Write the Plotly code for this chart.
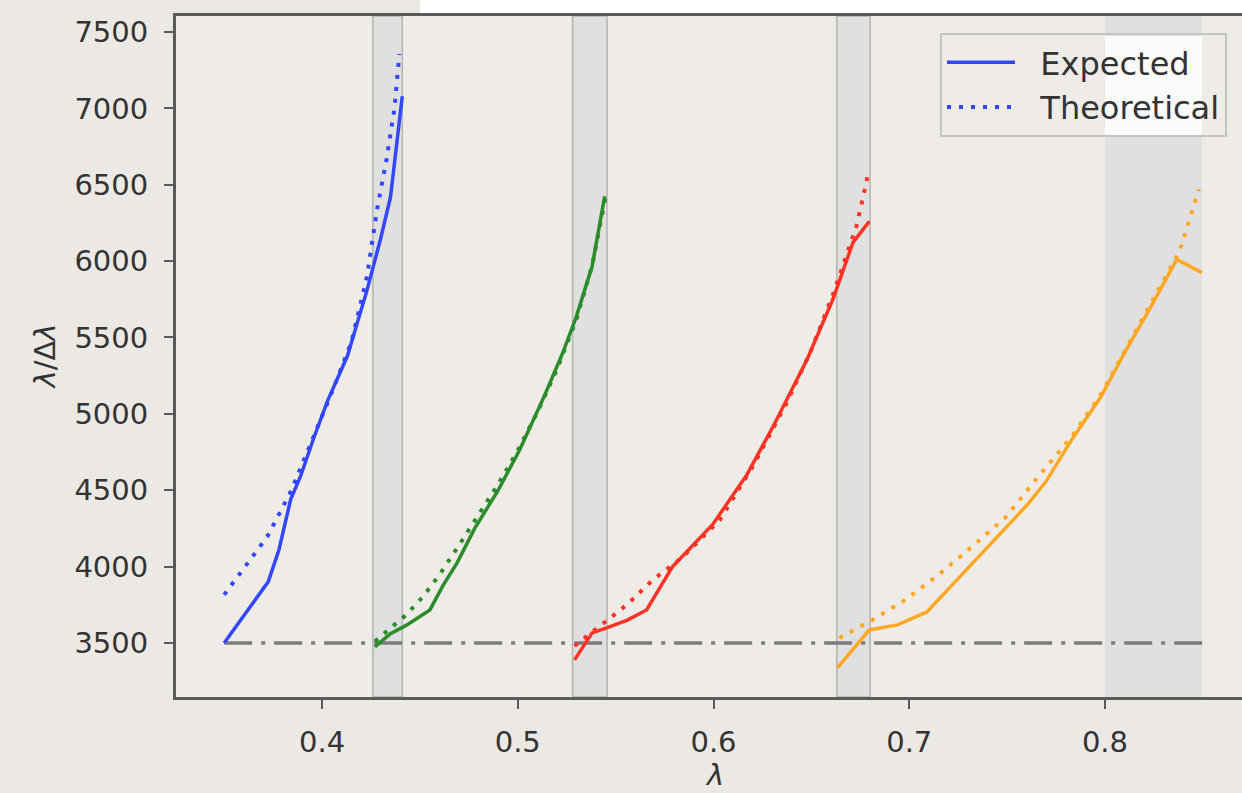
import plotly.graph_objects as go

# ---------------- data ----------------
blue_exp_x = [0.350, 0.361, 0.3725, 0.378, 0.384, 0.389, 0.396, 0.403, 0.413, 0.423, 0.430, 0.435, 0.439, 0.441]
blue_exp_y = [3500, 3700, 3900, 4110, 4440, 4590, 4850, 5090, 5380, 5810, 6150, 6420, 6870, 7080]
blue_th_x = [0.350, 0.360, 0.372, 0.384, 0.395, 0.405, 0.415, 0.423, 0.428, 0.433, 0.437, 0.4395]
blue_th_y = [3815, 3990, 4195, 4490, 4830, 5140, 5470, 5900, 6330, 6670, 7000, 7356]

green_exp_x = [0.427, 0.435, 0.4434, 0.4551, 0.462, 0.469, 0.478, 0.490, 0.501, 0.513, 0.523, 0.530, 0.538, 0.5444]
green_exp_y = [3474, 3560, 3618, 3716, 3880, 4024, 4250, 4500, 4765, 5100, 5400, 5640, 5966, 6425]
green_th_x = [0.427, 0.436, 0.443, 0.4515, 0.460, 0.470, 0.480, 0.490, 0.500, 0.510, 0.520, 0.530, 0.538, 0.545]
green_th_y = [3510, 3610, 3684, 3802, 3946, 4140, 4340, 4540, 4760, 5010, 5290, 5620, 5970, 6430]

red_exp_x = [0.529, 0.538, 0.5454, 0.556, 0.5658, 0.579, 0.5995, 0.617, 0.6304, 0.6478, 0.661, 0.6713, 0.6796]
red_exp_y = [3389, 3566, 3598, 3650, 3716, 3998, 4274, 4600, 4916, 5356, 5750, 6123, 6260]
red_th_x = [0.529, 0.5454, 0.5558, 0.569, 0.5844, 0.6033, 0.620, 0.6375, 0.650, 0.661, 0.669, 0.673, 0.6756, 0.6786]
red_th_y = [3480, 3650, 3750, 3913, 4064, 4307, 4654, 5074, 5420, 5780, 6080, 6228, 6372, 6549]

orange_exp_x = [0.6633, 0.6796, 0.694, 0.709, 0.730, 0.7495, 0.760, 0.770, 0.783, 0.798, 0.810, 0.823, 0.8367, 0.8495]
orange_exp_y = [3336, 3585, 3618, 3703, 3990, 4254, 4400, 4560, 4831, 5113, 5400, 5690, 6011, 5925]
orange_th_x = [0.6643, 0.681, 0.698, 0.715, 0.732, 0.7495, 0.766, 0.783, 0.798, 0.812, 0.825, 0.838, 0.848]
orange_th_y = [3533, 3650, 3782, 3946, 4130, 4326, 4590, 4851, 5130, 5450, 5760, 6060, 6470]

span_starts = [0.426, 0.528, 0.663, 0.800]
span_ends = [0.441, 0.5456, 0.680, 0.8496]
span_edges = [True, True, True, False]

ref_x = [0.35, 0.85]
ref_y = [3500, 3500]

y_ticks = [3500, 4000, 4500, 5000, 5500, 6000, 6500, 7000, 7500]
x_ticks = [0.4, 0.5, 0.6, 0.7, 0.8]

# ---------------- figure ----------------
W, H = 1242, 793
ml, mr, mt, mb = 176, 0, 16, 96
pw, ph = W - ml - mr, H - mt - mb

def px_x(p):
    return (p - ml) / pw

def px_y(p):
    return (H - mb - p) / ph

FONT = "DejaVu Sans"
DOT = "4px,8px"
NB = "\u00a0\u00a0"

fig = go.Figure()

series = [
    ("#3347ff", blue_exp_x, blue_exp_y, blue_th_x, blue_th_y, True),
    ("#2c8c2c", green_exp_x, green_exp_y, green_th_x, green_th_y, False),
    ("#ff3226", red_exp_x, red_exp_y, red_th_x, red_th_y, False),
    ("#ffa826", orange_exp_x, orange_exp_y, orange_th_x, orange_th_y, False),
]

fig.add_trace(go.Scatter(x=ref_x, y=ref_y, mode="lines", showlegend=False,
                         line=dict(color="#7c7c7c", width=3.5, dash="28px,9px,4px,9px")))

for color, ex, ey, tx, ty, leg in series:
    fig.add_trace(go.Scatter(x=ex, y=ey, mode="lines", name=NB + "Expected", showlegend=leg,
                             legendgroup="a", line=dict(color=color, width=3.5)))
    fig.add_trace(go.Scatter(x=tx, y=ty, mode="lines", name=NB + "Theoretical", showlegend=leg,
                             legendgroup="b", line=dict(color=color, width=4, dash=DOT)))

shapes = []
# white strip above the axes (photo artifact)
shapes.append(dict(type="rect", xref="paper", yref="paper", x0=px_x(420), x1=1.0,
                   y0=px_y(14), y1=px_y(-5), fillcolor="#ffffff", line=dict(width=0), layer="below"))
for s0, s1, edge in zip(span_starts, span_ends, span_edges):
    shapes.append(dict(type="rect", xref="x", yref="paper", x0=s0, x1=s1, y0=0, y1=1,
                       fillcolor="#e0e0e0",
                       line=dict(color="#b2b2b2" if edge else "rgba(0,0,0,0)", width=1.5 if edge else 0),
                       layer="below"))
# bright patch inside legend over last span
shapes.append(dict(type="rect", xref="x", yref="paper", x0=span_starts[3], x1=span_ends[3],
                   y0=px_y(135), y1=px_y(36), fillcolor="#fbfbfb", line=dict(width=0), layer="above"))

annotations = [
    dict(text="<i>λ</i>/Δ<i>λ</i>", xref="paper", yref="paper", x=px_x(44), y=0.5,
         textangle=-90, showarrow=False, xanchor="center", yanchor="middle",
         font=dict(family=FONT, size=29, color="#333333")),
    dict(text="<i>λ</i>", xref="paper", yref="paper", x=px_x(714), y=px_y(775),
         showarrow=False, xanchor="center", yanchor="middle",
         font=dict(family=FONT, size=29, color="#333333")),
]

fig.update_layout(
    width=W, height=H,
    margin=dict(l=ml, r=mr, t=mt, b=mb),
    paper_bgcolor="#ece9e4",
    plot_bgcolor="#efece7",
    font=dict(family=FONT, size=29, color="#333333"),
    shapes=shapes,
    annotations=annotations,
    legend=dict(x=px_x(940), y=px_y(33), xanchor="left", yanchor="top",
                bgcolor="rgba(0,0,0,0)", bordercolor="#c4c4c4", borderwidth=2,
                font=dict(family=FONT, size=32, color="#333333"),
                itemwidth=68, tracegroupgap=8, traceorder="normal"),
    showlegend=True,
)

fig.update_xaxes(range=[0.3254, 0.8700], tickvals=x_ticks, ticktext=[f"{v:.1f}" for v in x_ticks],
                 showgrid=False, zeroline=False, showline=True, linecolor="#5a5a5a", linewidth=3,
                 mirror=True, ticks="outside", ticklen=9, tickwidth=2, tickcolor="#5a5a5a",
                 ticklabelstandoff=8)
fig.update_yaxes(range=[3146, 7605], tickvals=y_ticks,
                 showgrid=False, zeroline=False, showline=True, linecolor="#5a5a5a", linewidth=3,
                 mirror=False, ticks="outside", ticklen=9, tickwidth=2, tickcolor="#5a5a5a",
                 ticklabelstandoff=10)

fig.write_html("out.html")
